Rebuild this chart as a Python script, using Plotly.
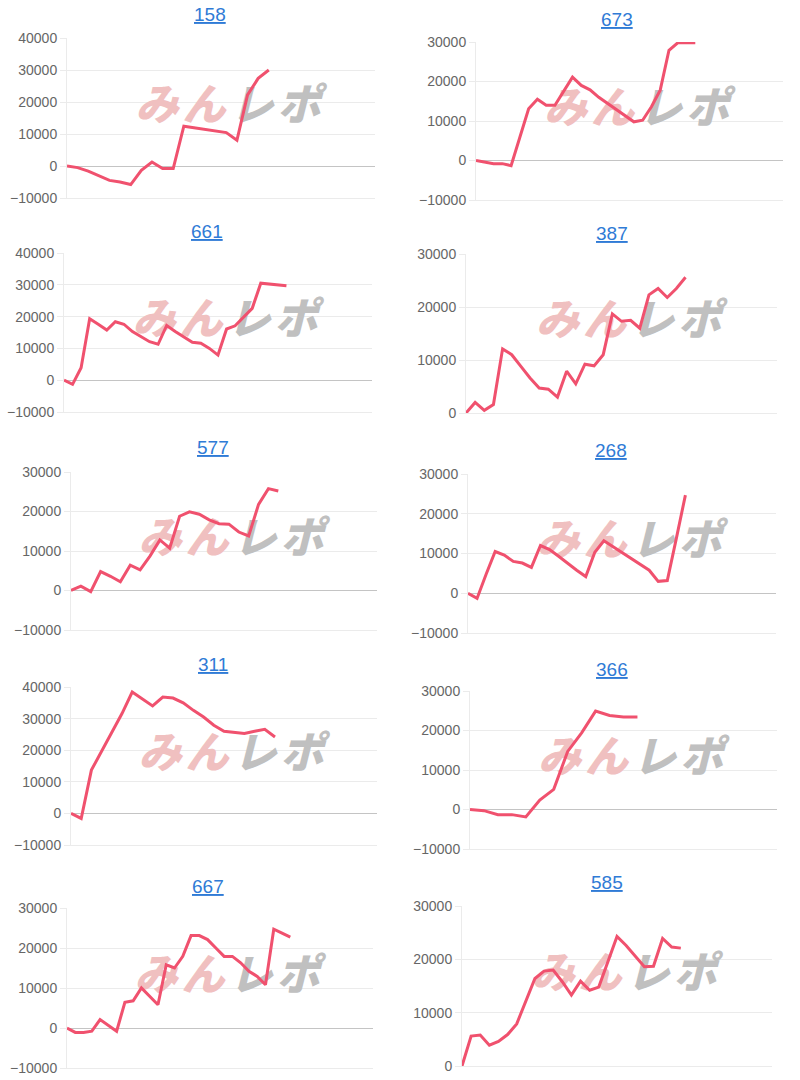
import plotly.graph_objects as go

W, H = 800, 1080

# ---------------- data ----------------
titles = ["158", "673", "661", "387", "577", "268", "311", "366", "667", "585"]

s158 = [0, -500, -1600, -3100, -4500, -5000, -5800, -1350, 1250, -800, -800,
        12450, 12000, 11500, 11000, 10450, 8050, 22200, 27400, 30000]
s673 = [0, -400, -800, -800, -1300, 5900, 13100, 15500, 14000, 14000, 17500,
        21100, 19000, 17900, 16000, 14500, 13000, 11400, 9800, 10200, 13600,
        17800, 27900, 29800, 29800, 29800]
s661 = [0, -1300, 3900, 19300, 17600, 15800, 18400, 17600, 15300, 13700, 12100,
        11300, 17200, 15300, 13700, 11900, 11600, 10000, 7900, 16100, 17100,
        20000, 22600, 30500, 30300, 30000, 29700]
s387 = [0, 2000, 500, 1600, 12100, 11000, 8800, 6600, 4700, 4500, 3000, 7900,
        5500, 9200, 8900, 11000, 18700, 17300, 17500, 16000, 22300, 23500,
        21800, 23500, 25600]
s577 = [0, 1100, -300, 4800, 3600, 2200, 6400, 5200, 8700, 12800, 10700, 18800,
        19900, 19300, 17900, 16900, 16800, 14800, 13800, 21800, 25800, 25200]
s268 = [0, -1300, 4800, 10500, 9600, 8000, 7600, 6500, 12000, 11000, 9300, 7500,
        5800, 4200, 10300, 13200, 11700, 10200, 8900, 7400, 5800, 3000, 3200,
        13800, 24700]
s311 = [0, -1600, 13700, 19700, 26000, 31600, 38400, 36300, 34000, 36800, 36500,
        35000, 32600, 30500, 27900, 26000, 25600, 25300, 26000, 26600, 24200]
s366 = [0, -300, -1300, -1300, -1900, 2400, 5100, 14700, 19400, 24900, 23800,
        23400, 23400]
s667 = [0, -1100, -1100, -800, 2100, 700, -800, 6400, 6800, 10000, 7900, 5800,
        15800, 15000, 17900, 23100, 23100, 22100, 20000, 17900, 17900, 16300,
        14200, 12900, 10800, 24700, 23700, 22700]
s585 = [0, 5600, 5800, 3900, 4600, 5900, 7900, 12000, 16400, 17800, 18000, 15800,
        13300, 15900, 14200, 14800, 19500, 24300, 22600, 20600, 18600, 18700,
        23900, 22300, 22100]

series = [s158, s673, s661, s387, s577, s268, s311, s366, s667, s585]

y_min = [-10000, -10000, -10000, 0, -10000, -10000, -10000, -10000, -10000, 0]
y_max = [40000, 30000, 40000, 30000, 30000, 30000, 40000, 30000, 30000, 30000]
y_step = 10000
empty_slots = 10  # unused category slots after the last point

watermark_chars = ["み", "ん", "レ", "ポ"]

# ---------------- layout geometry (pixels) ----------------
boxes = [  # x0, x1, ytop, ybottom
    (67, 375, 38, 198),
    (476, 783, 42, 200),
    (64, 372, 253, 412),
    (466, 777, 254, 413),
    (71, 377, 472, 630),
    (468, 776, 474, 633),
    (71, 377, 687, 845),
    (470, 777, 691, 849),
    (67, 373, 908, 1068),
    (462, 772, 906, 1066),
]
title_pos = [(210, 15), (617, 19), (207, 231), (612, 233), (213, 448),
             (611, 451), (213, 664), (612, 669), (208, 886), (607, 882)]

LINE = "#F0516E"
GRID = "#ebebeb"
ZERO = "#c4c4c4"
TICK_FONT = dict(family="Liberation Sans, Arial, sans-serif", size=14, color="#666666")
TITLE_COLOR = "#2F7BD6"
WM_COLORS = ["#f0c0c0", "#f0c0c0", "#c0c0c0", "#c0c0c0"]
WM_OFFSETS = [-72, -25, 23, 70]   # px from watermark centre
WM_SHIFT = (8, 9)                 # watermark centre vs plot centre (right, up)

fig = go.Figure()
layout = {}
annotations = []

for i, vals in enumerate(series):
    k = i + 1
    xa = "x" if k == 1 else f"x{k}"
    ya = "y" if k == 1 else f"y{k}"
    n = len(vals)
    xmax = n - 1 + empty_slots
    x0, x1, yt, yb = boxes[i]
    pw, ph = x1 - x0, yb - yt
    y0, y1 = y_min[i], y_max[i]

    # watermark (decoration), drawn below the data line
    wxs = [xmax * (pw / 2 + WM_SHIFT[0] + d) / pw for d in WM_OFFSETS]
    wy = y0 + (y1 - y0) * (ph / 2 + WM_SHIFT[1]) / ph
    fig.add_trace(go.Scatter(
        x=wxs, y=[wy] * 4, mode="text", text=watermark_chars,
        textposition="middle center",
        textfont=dict(family="Noto Sans CJK JP", size=43, weight=900,
                      style="italic", color=WM_COLORS),
        xaxis=xa, yaxis=ya, hoverinfo="skip", showlegend=False, cliponaxis=False))

    fig.add_trace(go.Scatter(
        x=list(range(n)), y=vals, mode="lines",
        line=dict(color=LINE, width=3),
        xaxis=xa, yaxis=ya, showlegend=False, hoverinfo="skip"))

    layout["xaxis" if k == 1 else f"xaxis{k}"] = dict(
        domain=[x0 / W, x1 / W], range=[0, xmax], anchor=ya, automargin=False,
        showgrid=False, zeroline=False, showticklabels=False, ticks="",
        showline=True, linecolor=GRID, linewidth=1, fixedrange=True)
    layout["yaxis" if k == 1 else f"yaxis{k}"] = dict(
        domain=[1 - yb / H, 1 - yt / H], range=[y0, y1], anchor=xa, automargin=False,
        tick0=0, dtick=y_step, tickformat="d", showgrid=True, gridcolor=GRID,
        gridwidth=1, zeroline=True, zerolinecolor=ZERO, zerolinewidth=1,
        showline=True, linecolor=GRID, linewidth=1,
        ticks="outside", ticklen=6, tickcolor=GRID,
        tickfont=TICK_FONT, fixedrange=True)

    tx, ty = title_pos[i]
    annotations.append(dict(
        x=tx / W, y=1 - ty / H, xref="paper", yref="paper",
        text=f"<u>{titles[i]}</u>", showarrow=False,
        xanchor="center", yanchor="middle",
        font=dict(family="Liberation Sans, Arial, sans-serif", size=19, color=TITLE_COLOR)))

fig.update_layout(
    template="none",
    width=W, height=H, autosize=False,
    margin=dict(l=0, r=0, t=0, b=0, pad=0),
    paper_bgcolor="white", plot_bgcolor="white",
    showlegend=False, annotations=annotations, **layout)

fig.write_html("out.html", config={"displayModeBar": False},
               post_script="document.body.style.margin='0px';")
